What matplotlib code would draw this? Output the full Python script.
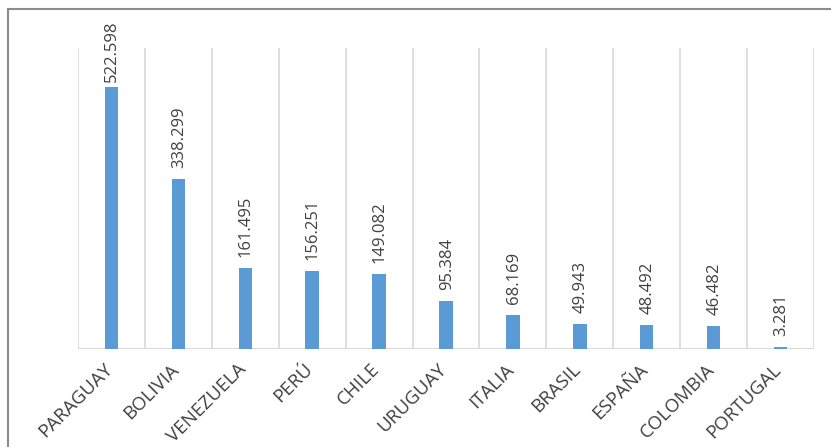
import matplotlib
matplotlib.use("Agg")
import matplotlib.pyplot as plt
from matplotlib.patches import Rectangle

categories = ["PARAGUAY", "BOLIVIA", "VENEZUELA", "PERÚ", "CHILE", "URUGUAY",
              "ITALIA", "BRASIL", "ESPAÑA", "COLOMBIA", "PORTUGAL"]
values = [522.598, 338.299, 161.495, 156.251, 149.082, 95.384,
          68.169, 49.943, 48.492, 46.482, 3.281]
value_labels = ["522.598", "338.299", "161.495", "156.251", "149.082", "95.384",
                "68.169", "49.943", "48.492", "46.482", "3.281"]

plt.rcParams['font.family'] = ['Open Sans', 'DejaVu Sans']
text_color = '#404040'
grid_color = '#d9d9d9'

W, H, DPI = 831, 447, 100
fig = plt.figure(figsize=(W / DPI, H / DPI), dpi=DPI)
fig.patch.set_facecolor('white')

# outer chart border (only top and left visible in the crop)
fig.add_artist(Rectangle((8/W, -0.1), 2.0, (H-9)/H + 0.1, transform=fig.transFigure,
                         fill=False, edgecolor='#8c8c8c', linewidth=1.5))

ax = fig.add_axes([78/W, 1 - 349/H, (814-78)/W, (349-48)/H])
n = len(categories)
x = list(range(n))
ax.bar(x, values, width=0.2, color='#5B9BD5', zorder=3)
ax.set_xlim(-0.5, n - 0.5)
ax.set_ylim(0, 600)

for b in [i - 0.5 for i in range(n + 1)]:
    ax.axvline(b, color=grid_color, linewidth=1.2, zorder=1)
ax.axhline(0, color=grid_color, linewidth=1.5, zorder=2)

for spine in ax.spines.values():
    spine.set_visible(False)
ax.set_yticks([])
ax.set_xticks(x)
ax.set_xticklabels([])
ax.tick_params(axis='x', length=0)

gap_pt = 8
vtexts = []
for xi, v, lab in zip(x, values, value_labels):
    t = ax.annotate(lab, (xi, v), xytext=(0.5, gap_pt), textcoords='offset points',
                    rotation=90, ha='center', va='bottom', fontsize=12, color=text_color)
    vtexts.append(t)

for xi, c in zip(x, categories):
    ax.annotate(c, (xi, 0), xytext=(-6, -8), textcoords='offset points',
                rotation=45, rotation_mode='anchor', ha='right', va='top',
                fontsize=13.5, color=text_color, annotation_clip=False)

# keep value labels inside the chart area (push down if too high)
fig.canvas.draw()
renderer = fig.canvas.get_renderer()
top_limit = H - 21
for t in vtexts:
    bb = t.get_window_extent(renderer)
    if bb.y1 > top_limit:
        shift_px = bb.y1 - top_limit
        t.xyann = (0.5, gap_pt - shift_px * 72 / DPI)

fig.savefig('out.png', dpi=DPI, facecolor='white')
